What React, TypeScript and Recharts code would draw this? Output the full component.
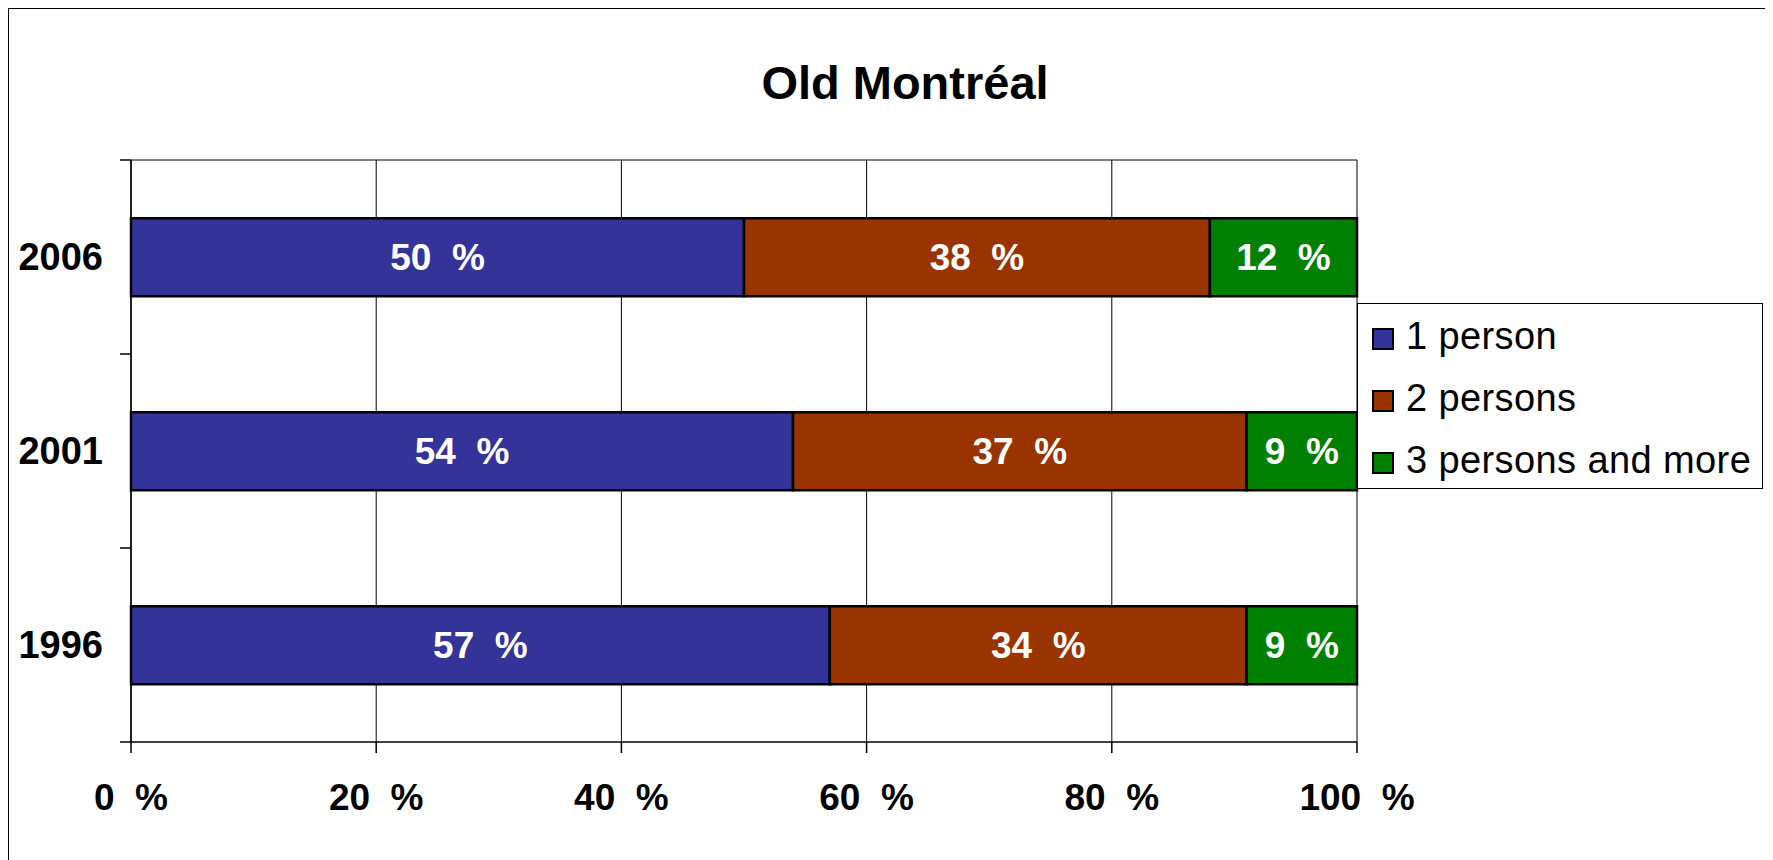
import { Bar, BarChart, CartesianGrid, LabelList, Legend, XAxis, YAxis } from 'recharts';

const years = ['2006', '2001', '1996'];
const onePerson = [50, 54, 57];
const twoPersons = [38, 37, 34];
const threePlus = [12, 9, 9];
const xTicks = [0, 20, 40, 60, 80, 100];

const series = [
  { key: 'one', name: '1 person', color: '#333399', values: onePerson },
  { key: 'two', name: '2 persons', color: '#993300', values: twoPersons },
  { key: 'three', name: '3 persons and more', color: '#008000', values: threePlus },
];

const data = years.map((year, i) => ({
  year,
  one: onePerson[i],
  two: twoPersons[i],
  three: threePlus[i],
}));

const FONT = '"Liberation Sans", Arial, sans-serif';
const pct = (v: number | string) => `${v}\u00a0\u00a0%`;

const Y_TICK_SIZE = 26;
const Y_TICK_MARGIN = 2;

// year label plus the short tick marks that sit on the band edges
function YearTick(props: any) {
  const { x, y, payload, index, visibleTicksCount } = props;
  const axisX = x + Y_TICK_SIZE + Y_TICK_MARGIN;
  const half = payload?.offset ?? 0;
  const isLast = index === (visibleTicksCount ?? years.length) - 1;
  return (
    <g>
      <line x1={axisX - 11} x2={axisX} y1={y - half} y2={y - half} stroke="#000" strokeWidth={1.5} />
      {isLast && <line x1={axisX - 11} x2={axisX} y1={y + half} y2={y + half} stroke="#000" strokeWidth={1.5} />}
      <text x={x} y={y} dy="0.355em" textAnchor="end" fill="#000" fontSize={38} fontWeight="bold" fontFamily={FONT}>
        {payload.value}
      </text>
    </g>
  );
}

function LegendBox({ payload }: { payload?: { value: string; color: string }[] }) {
  return (
    <div style={{ boxSizing: 'border-box', width: '100%', height: '100%', border: '1px solid #000', background: '#fff', paddingTop: 1 }}>
      {(payload || []).map((p) => (
        <div key={p.value} style={{ display: 'flex', alignItems: 'center', height: 62, paddingLeft: 14 }}>
          <span style={{ boxSizing: 'border-box', width: 22, height: 22, background: p.color, border: '2px solid #000', marginRight: 12, marginTop: 6 }} />
          <span style={{ fontFamily: FONT, fontSize: 38, letterSpacing: 0.4, color: '#000', whiteSpace: 'nowrap' }}>{p.value}</span>
        </div>
      ))}
    </div>
  );
}

export default function App() {
  return (
    <div style={{ position: 'relative', boxSizing: 'border-box', width: 1759, height: 854, border: '1px solid #000', background: '#fff' }}>
      <style>{'html,body{overflow:hidden}'}</style>
      <div style={{ position: 'absolute', left: -1, top: -1 }}>
        <BarChart
          width={1757}
          height={852}
          data={data}
          layout="vertical"
          barCategoryGap="30%"
          margin={{ top: 152, right: 408, left: 0, bottom: 58 }}
        >
          <CartesianGrid
            stroke="#000"
            strokeWidth={1}
            horizontalCoordinatesGenerator={({ offset }: any) => [offset.top]}
          />
          <XAxis
            type="number"
            domain={[0, 100]}
            ticks={xTicks}
            interval={0}
            tickFormatter={pct}
            height={60}
            tickSize={11}
            tickMargin={31}
            axisLine={{ stroke: '#000', strokeWidth: 1.5 }}
            tickLine={{ stroke: '#000', strokeWidth: 1.5 }}
            tick={{ fill: '#000', fontSize: 37, fontWeight: 'bold', fontFamily: FONT }}
          />
          <YAxis
            type="category"
            dataKey="year"
            width={123}
            interval={0}
            axisLine={{ stroke: '#000', strokeWidth: 1.5 }}
            tickLine={false}
            tickSize={Y_TICK_SIZE}
            tickMargin={Y_TICK_MARGIN}
            tick={<YearTick />}
          />
          <Legend
            layout="horizontal"
            align="center"
            verticalAlign="middle"
            content={<LegendBox />}
            wrapperStyle={{ left: 1349, top: 295, width: 406, height: 186 }}
          />
          {series.map((s) => (
            <Bar
              key={s.key}
              dataKey={s.key}
              name={s.name}
              stackId="a"
              fill={s.color}
              stroke="#000"
              strokeWidth={2.5}
              isAnimationActive={false}
            >
              <LabelList
                dataKey={s.key}
                position="center"
                formatter={pct}
                fill="#fff"
                style={{ fontSize: 37, fontWeight: 'bold', fontFamily: FONT }}
              />
            </Bar>
          ))}
        </BarChart>
        <svg width={1757} height={120} style={{ position: 'absolute', left: 0, top: 0, pointerEvents: 'none' }}>
          <text x={897} y={91} textAnchor="middle" fontFamily={FONT} fontSize={47} fontWeight="bold" fill="#000">
            Old Montréal
          </text>
        </svg>
      </div>
    </div>
  );
}
